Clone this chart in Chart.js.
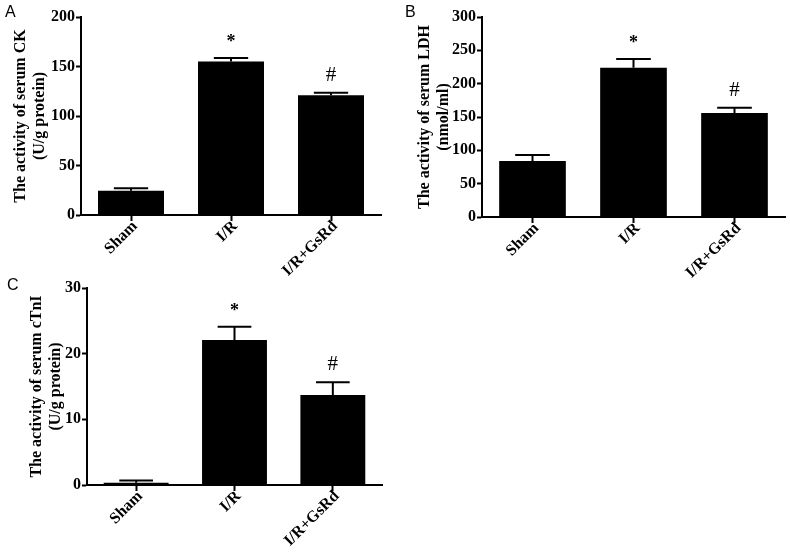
<!DOCTYPE html>
<html>
<head>
<meta charset="utf-8">
<script src="https://cdn.jsdelivr.net/npm/chart.js@4.4.1/dist/chart.umd.min.js"></script>
<style>
  html, body { margin: 0; padding: 0; background: #fff; }
  body { width: 790px; height: 556px; position: relative; overflow: hidden; }
  canvas { position: absolute; }
  .lbl { position: absolute; font-family: 'Liberation Sans', Arial, sans-serif; font-size: 16px; color: #000; line-height: 16px; }
</style>
</head>
<body>
<canvas id="cA" width="395" height="280" style="left:0px;top:0px;"></canvas>
<canvas id="cB" width="395" height="280" style="left:395px;top:0px;"></canvas>
<canvas id="cC" width="395" height="281" style="left:0px;top:275px;"></canvas>
<div class="lbl" style="left:5px;top:4px;">A</div>
<div class="lbl" style="left:405px;top:4px;">B</div>
<div class="lbl" style="left:7px;top:277px;">C</div>
<script>
// ---- data ----
const categories = ['Sham', 'I/R', 'I/R+GsRd'];
const markers = ['', '*', '#'];

const ckMeans = [24.5, 155, 121];
const ckErrors = [2.5, 3.5, 2.5];

const ldhMeans = [84, 224, 156];
const ldhErrors = [9, 13, 8];

const ctniMeans = [0.35, 22.1, 13.7];
const ctniErrors = [0.35, 2.0, 1.95];

const ckTicks = { max: 200, step: 50 };
const ldhTicks = { max: 300, step: 50 };
const ctniTicks = { max: 30, step: 10 };

const ckTitle = ['The activity of serum CK', '(U/g protein)'];
const ldhTitle = ['The activity of serum LDH', '(nmol/ml)'];
const ctniTitle = ['The activity of serum cTnI', '(U/g protein)'];

const SERIF = "'Liberation Serif', 'Times New Roman', serif";

const errorPlugin = {
  id: 'errorBars',
  afterDatasetsDraw(chart) {
    const ctx = chart.ctx;
    const meta = chart.getDatasetMeta(0);
    const yScale = chart.scales.y;
    const errs = chart.options.plugins.errorBars.errors;
    const means = chart.data.datasets[0].data;
    ctx.save();
    ctx.strokeStyle = '#000';
    ctx.lineWidth = 2;
    meta.data.forEach((bar, i) => {
      const x = bar.x;
      const yTop = yScale.getPixelForValue(means[i] + errs[i]);
      const capHalf = bar.width * 0.26;
      ctx.beginPath();
      ctx.moveTo(x, bar.y);
      ctx.lineTo(x, yTop);
      ctx.moveTo(x - capHalf, yTop);
      ctx.lineTo(x + capHalf, yTop);
      ctx.stroke();
      const m = markers[i];
      if (m) {
        ctx.fillStyle = '#000';
        ctx.textAlign = 'center';
        ctx.textBaseline = 'alphabetic';
        ctx.font = (m === '*' ? 'bold 18px ' : '21px ') + SERIF;
        ctx.fillText(m, x, yTop - (m === '*' ? 11 : 12));
      }
    });
    ctx.restore();
  }
};

function makeChart(id, means, errs, tk, title, cfg) {
  new Chart(document.getElementById(id), {
    type: 'bar',
    data: {
      labels: categories,
      datasets: [{
        data: means,
        backgroundColor: '#000',
        borderColor: '#000',
        borderWidth: 0,
        barPercentage: 0.66,
        categoryPercentage: 1.0
      }]
    },
    options: {
      responsive: false,
      animation: false,
      devicePixelRatio: 1,
      layout: { padding: { top: cfg.top, right: cfg.right, left: 0, bottom: 0 } },
      plugins: {
        legend: { display: false },
        tooltip: { enabled: false },
        errorBars: { errors: errs }
      },
      scales: {
        x: {
          offset: true,
          grid: { display: true, offset: false, drawOnChartArea: false, drawTicks: true, tickLength: 6, tickWidth: 2, tickColor: '#000' },
          border: { display: true, width: 2, color: '#000' },
          ticks: {
            color: '#000',
            autoSkip: false,
            minRotation: 45,
            maxRotation: 45,
            padding: -4,
            labelOffset: 4,
            font: { family: SERIF, size: 16, weight: 'bold' }
          },
          afterFit(scale) { scale.height = cfg.xh; }
        },
        y: {
          min: 0,
          max: tk.max,
          grid: { display: true, drawOnChartArea: false, drawTicks: true, tickLength: 5, tickWidth: 2, tickColor: '#000' },
          border: { display: true, width: 2, color: '#000' },
          ticks: {
            stepSize: tk.step,
            color: '#000',
            padding: 1,
            font: { family: SERIF, size: 16, weight: 'bold' }
          },
          title: {
            display: true,
            text: title,
            color: '#000',
            padding: { top: cfg.tpad, bottom: 0 },
            font: { family: SERIF, size: 16, weight: 'bold', lineHeight: 1.2 }
          },
          afterFit(scale) { scale.width = cfg.yw; }
        }
      }
    },
    plugins: [errorPlugin]
  });
}

makeChart('cA', ckMeans, ckErrors, ckTicks, ckTitle, { top: 17, right: 14, xh: 65, yw: 81, tpad: 11 });
makeChart('cB', ldhMeans, ldhErrors, ldhTicks, ldhTitle, { top: 17, right: 5, xh: 63, yw: 87, tpad: 20 });
makeChart('cC', ctniMeans, ctniErrors, ctniTicks, ctniTitle, { top: 13, right: 13, xh: 71, yw: 87, tpad: 27 });
</script>
</body>
</html>
